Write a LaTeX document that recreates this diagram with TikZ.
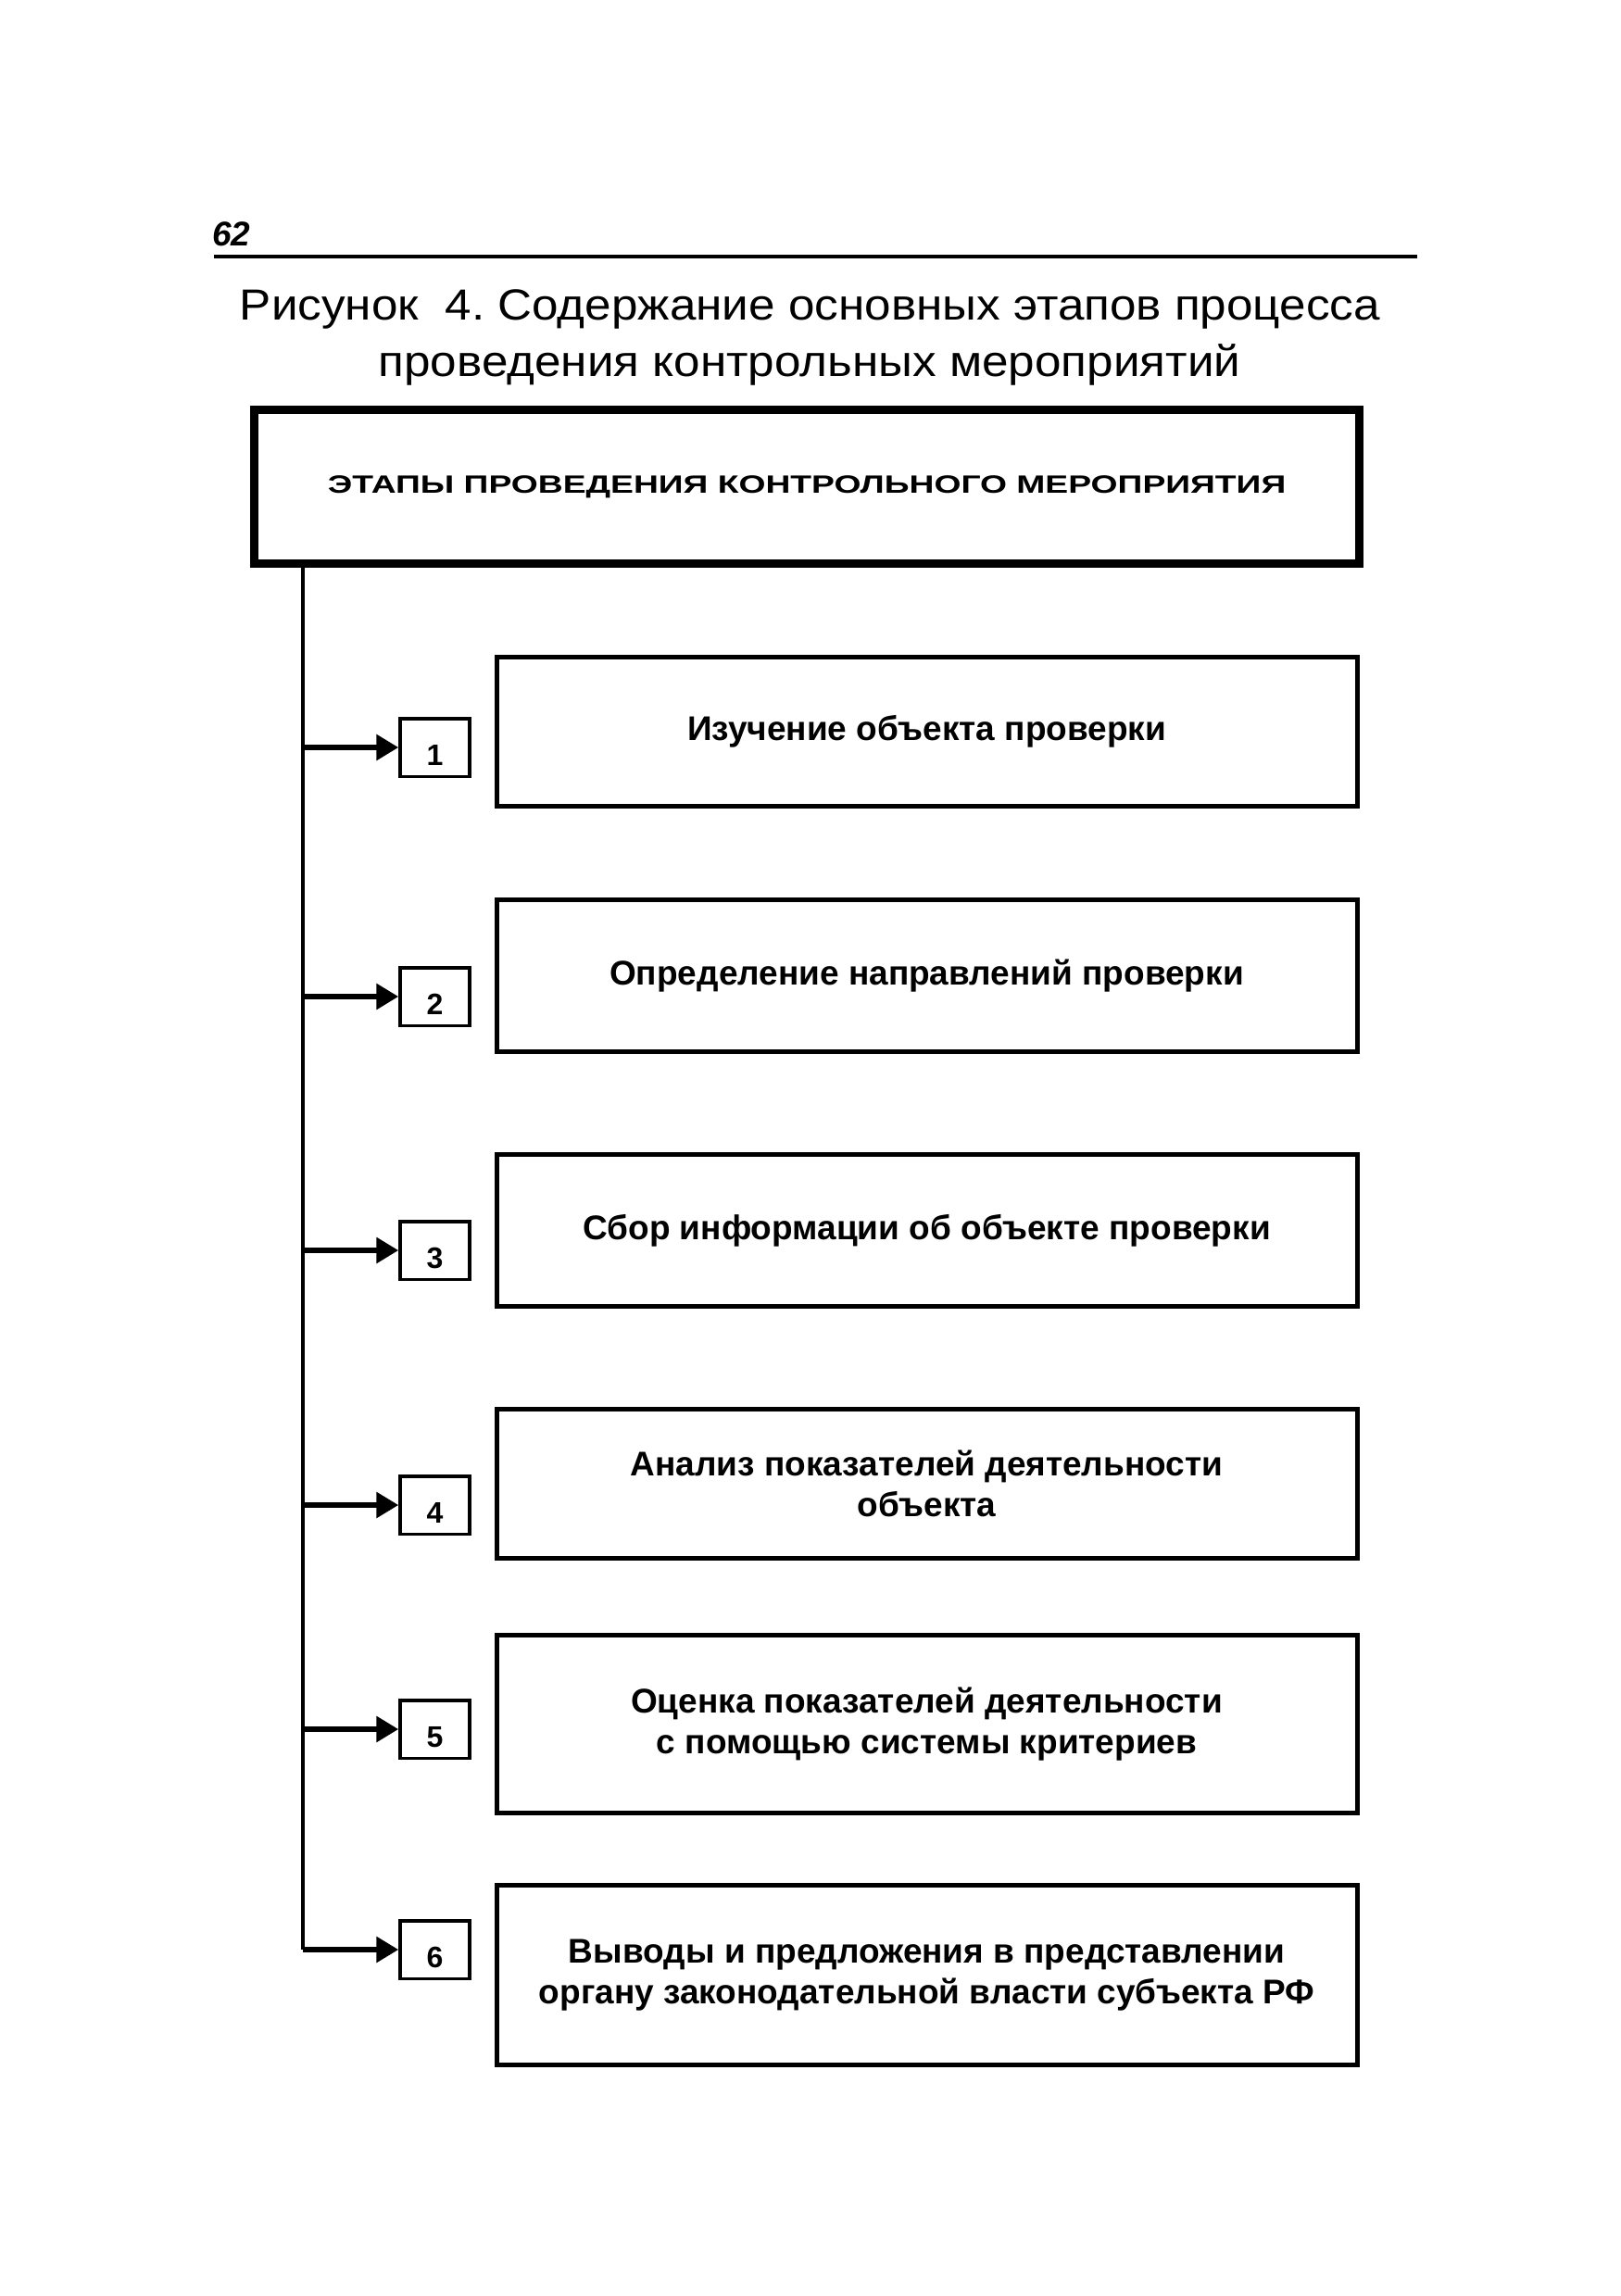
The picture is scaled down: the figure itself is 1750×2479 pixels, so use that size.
\documentclass[tikz,border=0pt]{standalone}
\usepackage{fontspec}
\setmainfont{Liberation Sans}
\usetikzlibrary{arrows.meta}
\frenchspacing
\newcommand{\stagefnt}{\fontsize{37}{44}\bfseries\selectfont}
\newcommand{\widetitle}[1]{\scalebox{1.09}[1]{#1}}
\begin{document}
\begin{tikzpicture}[x=1pt,y=-1pt,
  stagebox/.style={draw,line width=5pt,minimum width=929pt,inner sep=0pt,align=center,font=\stagefnt},
  numbox/.style={draw,line width=3.5pt,minimum width=75pt,minimum height=62.5pt,inner sep=0pt,text height=39pt,text depth=0pt,font=\fontsize{32}{36}\bfseries\selectfont},
  spine/.style={line width=3.5pt},
  arr/.style={line width=6pt,-{Triangle[length=24pt,width=27pt]}},
  titlefnt/.style={font=\fontsize{47}{54}\selectfont}
]
\useasboundingbox[fill=white] (0,0) rectangle (1750,2479);
% page number and rule
\node[anchor=west,font=\fontsize{37}{40}\bfseries\itshape\selectfont,inner sep=0pt] (pnum) at (229,253) {62};
\draw[line width=4.5pt] (231,277) -- (1530,277);
% title
\node[titlefnt,inner sep=0pt] (t1) at (874.5,334) {\widetitle{Рисунок\ \ 4. Содержание основных этапов процесса}};
\node[titlefnt,inner sep=0pt] (t2) at (874,394) {\widetitle{проведения контрольных мероприятий}};
% top box
\node[draw,line width=9pt,minimum width=1193pt,minimum height=166pt,inner sep=0pt,font=\fontsize{27}{32}\bfseries\selectfont] (top) at (871,525.5) {\scalebox{1.38}[1]{ЭТАПЫ ПРОВЕДЕНИЯ КОНТРОЛЬНОГО МЕРОПРИЯТИЯ}};
% stage boxes
\node[stagebox,minimum height=161pt] (s1) at (1000.5,790) {Изучение объекта проверки};
\node[stagebox,minimum height=164pt] (s2) at (1000.5,1053.5) {Определение направлений проверки};
\node[stagebox,minimum height=164pt] (s3) at (1000.5,1328.5) {Сбор информации об объекте проверки};
\node[stagebox,minimum height=161pt] (s4) at (1000.5,1602) {Анализ показателей деятельности\\объекта};
\node[stagebox,minimum height=192pt] (s5) at (1000.5,1861.5) {Оценка показателей деятельности\\с помощью системы критериев};
\node[stagebox,minimum height=194pt] (s6) at (1000.5,2132.5) {Выводы и предложения в представлении\\органу законодательной власти субъекта РФ};
% number boxes
\node[numbox] (n1) at (469.5,807) {1};
\node[numbox] (n2) at (469.5,1076) {2};
\node[numbox] (n3) at (469.5,1350) {3};
\node[numbox] (n4) at (469.5,1625) {4};
\node[numbox] (n5) at (469.5,1867) {5};
\node[numbox] (n6) at (469.5,2105) {6};
% spine
\coordinate (spineEnd) at (327,2105);
\draw[spine] (top.south -| spineEnd) -- (spineEnd);
\foreach \i in {1,...,6}{
  \draw[arr] (n\i.west -| spineEnd) -- (n\i.west);
}
\end{tikzpicture}
\end{document}
